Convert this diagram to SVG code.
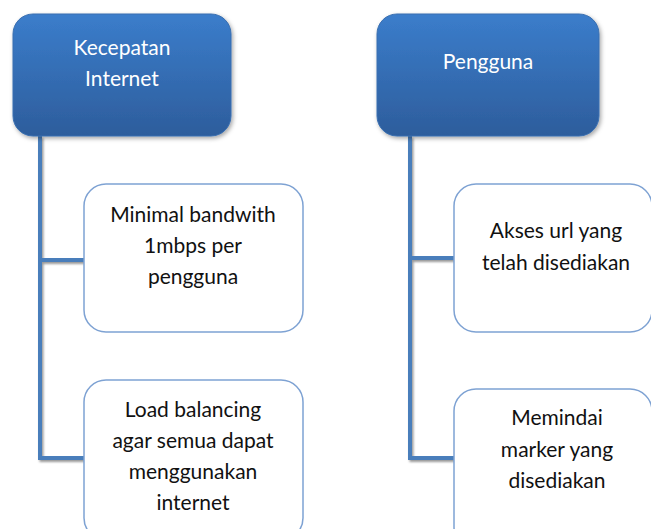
<svg xmlns="http://www.w3.org/2000/svg" width="651" height="529" viewBox="0 0 651 529">
  <defs>
    <linearGradient id="headFill" x1="0" y1="0" x2="0" y2="1">
      <stop offset="0" stop-color="#3b7dcb"/>
      <stop offset="1" stop-color="#2d5d9c"/>
    </linearGradient>
    <filter id="shadow" x="-10%" y="-10%" width="125%" height="130%">
      <feDropShadow dx="1.5" dy="2" stdDeviation="2" flood-color="#000" flood-opacity="0.35"/>
    </filter>
    <filter id="lineShadow" x="-20%" y="-5%" width="160%" height="115%">
      <feDropShadow dx="1.5" dy="2" stdDeviation="1.2" flood-color="#000" flood-opacity="0.4"/>
    </filter>
  </defs>
  <style>
    .head { fill: url(#headFill); stroke: #3a6fb0; stroke-width: 1; filter: url(#shadow); }
    .item { fill: #ffffff; stroke: #7ea2d3; stroke-width: 1.5; }
    .wire { fill: none; stroke: #4a7ebb; stroke-width: 4; filter: url(#lineShadow); }
    text { font-family: Lato, "Open Sans", "Liberation Sans", sans-serif; font-size: 21px; text-anchor: middle; }
    .headText { fill: #ffffff; }
    .itemText { fill: #111111; }
  </style>
  <rect width="651" height="529" fill="#ffffff"/>

  <!-- connectors -->
  <g id="connectors">
    <path class="wire" d="M40 136 V458 H86 M40 260 H86"/>
    <path class="wire" d="M410 136 V458 H456 M410 258 H456"/>
  </g>

  <g id="kecepatan-internet">
    <rect class="head" x="13" y="14" width="218" height="122" rx="20"/>
    <text class="headText" x="122" y="55">Kecepatan</text>
    <text class="headText" x="122" y="86">Internet</text>
  </g>

  <g id="pengguna">
    <rect class="head" x="377" y="14" width="222" height="122" rx="20"/>
    <text class="headText" x="488" y="69">Pengguna</text>
  </g>

  <g id="minimal-bandwith">
    <rect class="item" x="84" y="184" width="219" height="148" rx="22"/>
    <text class="itemText" x="193" y="222">Minimal bandwith</text>
    <text class="itemText" x="193" y="253">1mbps per</text>
    <text class="itemText" x="193" y="284">pengguna</text>
  </g>

  <g id="load-balancing">
    <rect class="item" x="84" y="380" width="219" height="160" rx="22"/>
    <text class="itemText" x="193" y="417">Load balancing</text>
    <text class="itemText" x="193" y="448">agar semua dapat</text>
    <text class="itemText" x="193" y="479">menggunakan</text>
    <text class="itemText" x="193" y="510">internet</text>
  </g>

  <g id="akses-url">
    <rect class="item" x="454" y="184" width="198" height="148" rx="22"/>
    <text class="itemText" x="556" y="238">Akses url yang</text>
    <text class="itemText" x="556" y="270">telah disediakan</text>
  </g>

  <g id="memindai-marker">
    <rect class="item" x="454" y="389" width="198" height="160" rx="22"/>
    <text class="itemText" x="557" y="425">Memindai</text>
    <text class="itemText" x="557" y="457">marker yang</text>
    <text class="itemText" x="557" y="488">disediakan</text>
  </g>
</svg>
